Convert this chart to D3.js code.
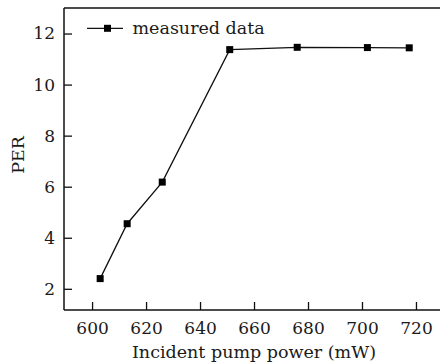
<!DOCTYPE html>
<html>
<head>
<meta charset="utf-8">
<script src="https://cdn.jsdelivr.net/npm/d3@7"></script>
<style>
  html, body { margin: 0; padding: 0; background: #fff; }
  svg { display: block; }
  text { font-family: "DejaVu Serif", serif; fill: #1a1a1a; }
</style>
</head>
<body>
<svg id="chart" width="440" height="364"></svg>
<script>
// Incident pump power (mW) and the polarization extinction ratio measured at each
const pumpPower = [603, 613, 626, 651, 676, 702, 717.5];
const perValues = [2.4, 4.55, 6.18, 11.37, 11.46, 11.45, 11.44];
const xTicks = [600, 620, 640, 660, 680, 700, 720];
const yTicks = [2, 4, 6, 8, 10, 12];
const seriesName = "measured data";
const xTitle = "Incident pump power (mW)";
const yTitle = "PER";

const svg = d3.select("#chart");
const plot = { left: 64, right: 440, top: 8, bottom: 310 };

const x = d3.scaleLinear().domain([589.6, 728.9]).range([plot.left, plot.right]);
const y = d3.scaleLinear().domain([1.17, 13]).range([plot.bottom, plot.top]);

// frame: top edge
svg.append("line")
  .attr("x1", plot.left).attr("x2", plot.right)
  .attr("y1", plot.top).attr("y2", plot.top)
  .attr("stroke", "#111").attr("stroke-width", 1.5);

// bottom axis, ticks pointing into the plot
const gx = svg.append("g")
  .attr("transform", `translate(0,${plot.bottom})`)
  .call(d3.axisBottom(x).tickValues(xTicks).tickFormat(d3.format("d"))
    .tickSizeInner(-8).tickSizeOuter(0).tickPadding(12));
gx.select(".domain").attr("stroke", "#111").attr("stroke-width", 1.5)
  .attr("d", `M${plot.left},0H${plot.right}`);
gx.selectAll(".tick line").attr("stroke", "#111").attr("stroke-width", 1.3);
gx.selectAll(".tick text").attr("font-size", 17).attr("font-family", "DejaVu Serif");

// left axis, ticks pointing into the plot
const gy = svg.append("g")
  .attr("transform", `translate(${plot.left},0)`)
  .call(d3.axisLeft(y).tickValues(yTicks).tickFormat(d3.format("d"))
    .tickSizeInner(-8).tickSizeOuter(0).tickPadding(9));
gy.select(".domain").attr("stroke", "#111").attr("stroke-width", 1.5)
  .attr("d", `M0,${plot.top}V${plot.bottom}`);
gy.selectAll(".tick line").attr("stroke", "#111").attr("stroke-width", 1.3);
gy.selectAll(".tick text").attr("font-size", 17).attr("font-family", "DejaVu Serif");

// axis titles
svg.append("text")
  .attr("x", 254).attr("y", 358)
  .attr("text-anchor", "middle")
  .attr("font-size", 17.5)
  .text(xTitle);

svg.append("text")
  .attr("transform", "translate(24,155) rotate(-90)")
  .attr("text-anchor", "middle")
  .attr("font-size", 17.5)
  .text(yTitle);

// data line with square markers
const pts = pumpPower.map((p, i) => [p, perValues[i]]);
svg.append("path")
  .datum(pts)
  .attr("fill", "none")
  .attr("stroke", "#111")
  .attr("stroke-width", 1.3)
  .attr("d", d3.line().x(d => x(d[0])).y(d => y(d[1])));

const ms = 7;
svg.selectAll("rect.pt")
  .data(pts)
  .join("rect")
  .attr("class", "pt")
  .attr("x", d => x(d[0]) - ms / 2)
  .attr("y", d => y(d[1]) - ms / 2)
  .attr("width", ms).attr("height", ms)
  .attr("fill", "#000");

// legend
const ly = 28.3;
svg.append("line")
  .attr("x1", 87).attr("x2", 123)
  .attr("y1", ly).attr("y2", ly)
  .attr("stroke", "#111").attr("stroke-width", 1.3);
svg.append("rect")
  .attr("x", 107.5 - ms / 2).attr("y", ly - ms / 2)
  .attr("width", ms).attr("height", ms)
  .attr("fill", "#000");
svg.append("text")
  .attr("x", 132.5).attr("y", ly)
  .attr("dy", "0.32em")
  .attr("font-size", 17.5)
  .text(seriesName);
</script>
</body>
</html>
